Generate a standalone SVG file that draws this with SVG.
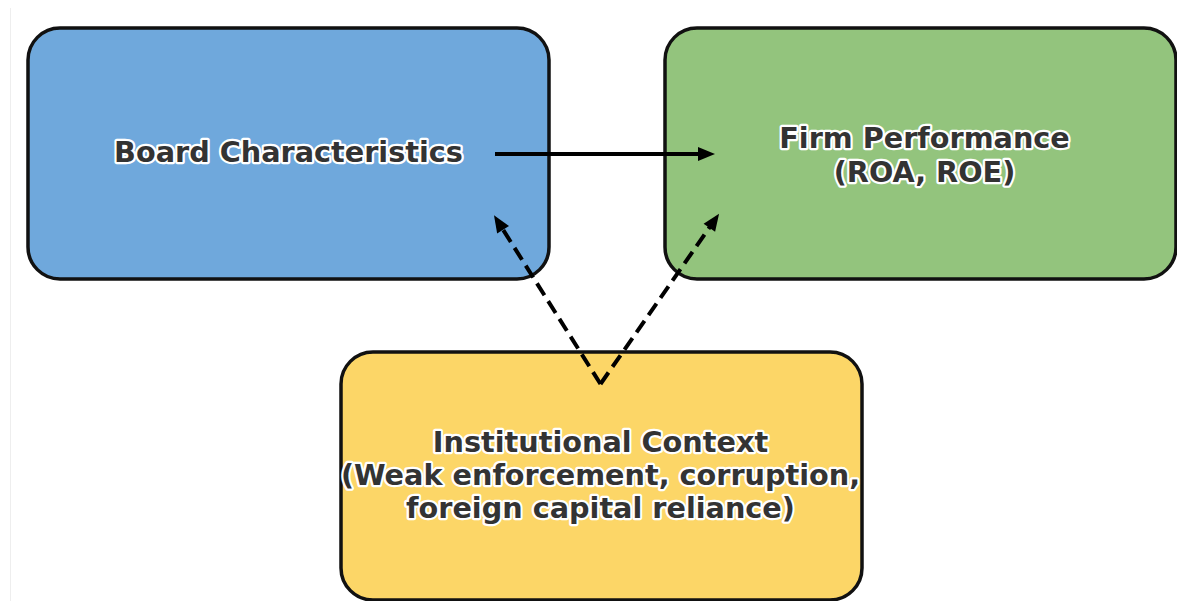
<svg xmlns="http://www.w3.org/2000/svg" width="1177" height="601" viewBox="0 0 1177 601">
  <style>
    .box { stroke: #111; stroke-width: 3.5; }
    .label { font-family: "DejaVu Sans", "Liberation Sans", sans-serif; font-weight: bold; font-size: 28.7px; fill: #333; stroke: #fff; stroke-width: 4.5; stroke-linejoin: round; paint-order: stroke fill; text-anchor: middle; }
    .edge { fill: none; stroke: #000; stroke-width: 4; }
    .dashed { stroke-dasharray: 14 7; }
  </style>
  <defs>
    <marker id="head" markerUnits="userSpaceOnUse" markerWidth="20" markerHeight="16" refX="2" refY="8" orient="auto" overflow="visible">
      <path d="M0,1 L17,8 L0,15 Z" fill="#000" stroke="none"/>
    </marker>
  </defs>

  <rect width="1177" height="601" fill="#fff"/>
  <line x1="10.5" y1="8" x2="10.5" y2="601" stroke="#eeeeee" stroke-width="1"/>

  <g id="node-board">
    <rect class="box" x="28" y="28" width="521" height="251" rx="32" ry="32" fill="#6fa8dc"/>
    <text class="label" x="288.5" y="162">Board Characteristics</text>
  </g>

  <g id="node-performance">
    <rect class="box" x="665" y="28" width="511" height="251" rx="32" ry="32" fill="#93c47d"/>
    <text class="label" x="924.5" y="148">Firm Performance</text>
    <text class="label" x="924.5" y="181.5">(ROA, ROE)</text>
  </g>

  <g id="node-context">
    <rect class="box" x="341" y="352" width="521" height="248" rx="32" ry="32" fill="#fcd667"/>
    <text class="label" x="600.5" y="451.5">Institutional Context</text>
    <text class="label" x="600.5" y="484.5">(Weak enforcement, corruption,</text>
    <text class="label" x="600.5" y="517.5">foreign capital reliance)</text>
  </g>

  <g id="connectors">
    <path class="edge" d="M495,154 L700,154" marker-end="url(#head)"/>
    <path class="edge dashed" d="M600.5,384 L502,228" marker-end="url(#head)"/>
    <path class="edge dashed" d="M600.5,384 L710.5,226" marker-end="url(#head)"/>
  </g>
</svg>
